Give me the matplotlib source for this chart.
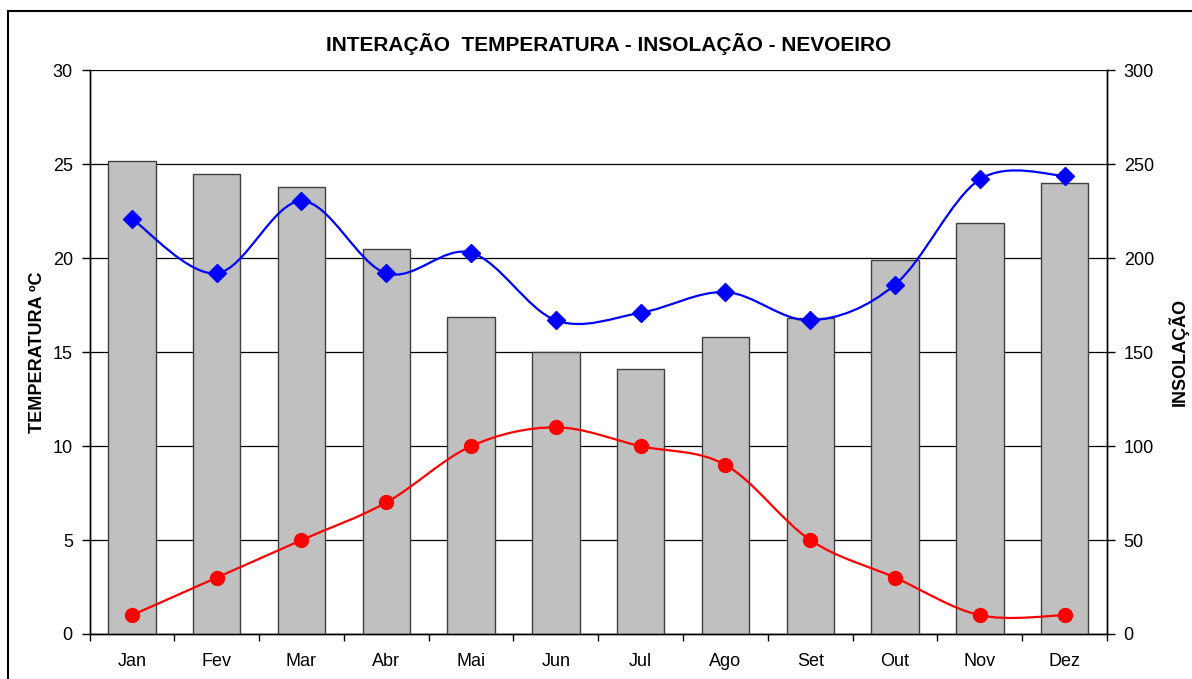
import matplotlib.pyplot as plt
from matplotlib.path import Path
from matplotlib.patches import PathPatch, Rectangle
import numpy as np

plt.rcParams['font.family'] = ['Liberation Sans', 'DejaVu Sans']

meses = ['Jan', 'Fev', 'Mar', 'Abr', 'Mai', 'Jun', 'Jul', 'Ago', 'Set', 'Out', 'Nov', 'Dez']
insolacao = [252, 245, 238, 205, 169, 150, 141, 158, 168, 199, 219, 240]
temperatura = [22.1, 19.2, 23.05, 19.2, 20.3, 16.7, 17.1, 18.2, 16.7, 18.6, 24.2, 24.4]
nevoeiro = [1, 3, 5, 7, 10, 11, 10, 9, 5, 3, 1, 1]


def smooth_path(xs, ys):
    # bezier segments like Excel's "smoothed line"
    pts = np.column_stack([xs, ys]).astype(float)
    n = len(pts)
    verts = [pts[0]]
    codes = [Path.MOVETO]
    for i in range(n - 1):
        p0 = pts[i - 1] if i > 0 else pts[i]
        p1 = pts[i]
        p2 = pts[i + 1]
        p3 = pts[i + 2] if i + 2 < n else pts[i + 1]
        verts += [p1 + (p2 - p0) / 6, p2 - (p3 - p1) / 6, p2]
        codes += [Path.CURVE4] * 3
    return Path(verts, codes)


fig = plt.figure(figsize=(11.92, 6.79), dpi=100)
ax = fig.add_axes([0.0751, 0.0663, 0.8536, 0.8299])
ax2 = ax.twinx()
ax.set_zorder(ax2.get_zorder() + 1)
ax.patch.set_visible(False)

x = np.arange(len(meses))

# bars + grid on the right (insolacao) axis
ax2.bar(x, insolacao, width=0.56, color='#C0C0C0', edgecolor='#404040', linewidth=1.0, zorder=3)
ax2.set_ylim(0, 300)
ax2.set_yticks(range(0, 301, 50))
ax2.yaxis.grid(True, color='black', linewidth=0.9, zorder=0)
ax2.set_axisbelow(True)
ax2.set_ylabel('INSOLAÇÃO', fontsize=13, fontweight='bold', labelpad=10)

# lines on the left (temperatura) axis
for vals, cor, mk in [(temperatura, '#0000FF', 'D'), (nevoeiro, '#FF0000', 'o')]:
    ax.add_patch(PathPatch(smooth_path(x, vals), facecolor='none', edgecolor=cor, linewidth=1.6, zorder=4))
    ax.plot(x, vals, linestyle='none', marker=mk, color=cor, markersize=10 if mk == 'o' else 9, zorder=5)

ax.set_xlim(-0.5, len(meses) - 0.5)
ax.set_ylim(0, 30)
ax.set_yticks(range(0, 31, 5))
ax.set_xticks(x)
ax.set_xticklabels(meses)
ax.set_xticks(np.arange(-0.5, len(meses)), minor=True)
ax.tick_params(axis='x', which='major', length=0, pad=14, labelsize=13)
ax.tick_params(axis='x', which='minor', length=5, width=1, direction='out')
ax.tick_params(axis='y', length=6, width=1, pad=6, labelsize=13)
ax2.tick_params(axis='y', length=6, width=1, pad=6, labelsize=13)
ax.set_ylabel('TEMPERATURA ºC', fontsize=13, fontweight='bold', labelpad=5)

for a in (ax, ax2):
    a.spines['top'].set_visible(False)
    for s in ('left', 'right', 'bottom'):
        a.spines[s].set_linewidth(1.0)
        a.spines[s].set_color('black')

ax.set_title('INTERAÇÃO  TEMPERATURA - INSOLAÇÃO - NEVOEIRO', fontsize=15, fontweight='bold', pad=14, x=0.51)

# outer chart frame
fig.add_artist(Rectangle((8 / 1192, -0.1), 1.2, 1.1 - 11 / 679, transform=fig.transFigure,
                         facecolor='none', edgecolor='black', linewidth=1.5))

fig.savefig('out.png', dpi=100)
